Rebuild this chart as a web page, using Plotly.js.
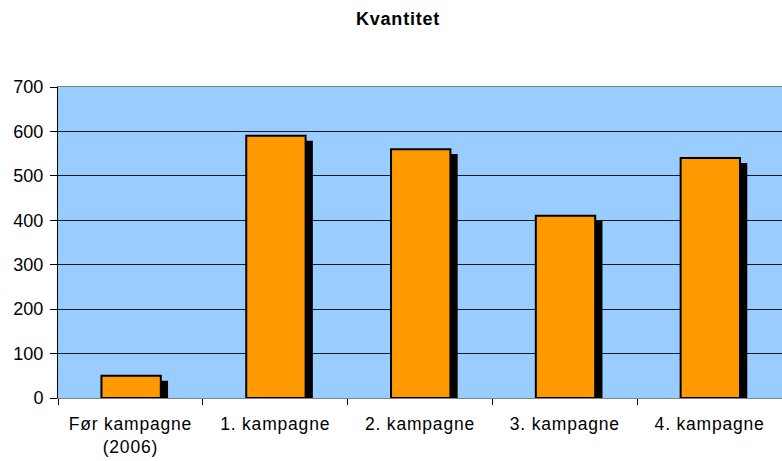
<!DOCTYPE html>
<html><head><meta charset="utf-8">
<script src="https://cdn.plot.ly/plotly-3.0.1.min.js"></script>
<style>html,body{margin:0;padding:0;background:#fff}#chart{width:782px;height:461px}
.xtick text{letter-spacing:0.8px}
.gtitle{letter-spacing:0.8px}</style>
</head><body><div id="chart"></div>
<script>
const categories = ["Før kampagne<br>(2006)", "1. kampagne", "2. kampagne", "3. kampagne", "4. kampagne"];
const quantities = [50, 590, 560, 410, 540];
const yTicks = [0, 100, 200, 300, 400, 500, 600, 700];

const shadowDrop = 11;   // visual depth of the drop shadow (data units)
const barWidth = 0.41;
const barOffset = -0.2;
const shadowShift = 0.05;

const shadow = {
  type: 'bar', x: categories, y: quantities.map(v => v - shadowDrop),
  width: barWidth, offset: barOffset + shadowShift,
  marker: {color: '#000000', line: {width: 0}},
  hoverinfo: 'skip', showlegend: false
};
const bars = {
  type: 'bar', x: categories, y: quantities,
  width: barWidth, offset: barOffset,
  marker: {color: '#FF9900', line: {color: '#000000', width: 2}},
  showlegend: false
};

const layout = {
  width: 782, height: 461,
  margin: {l: 58, r: 0, t: 87, b: 63, pad: 0},
  paper_bgcolor: '#ffffff', plot_bgcolor: '#99CCFF',
  barmode: 'overlay',
  font: {family: 'Liberation Sans, Arial, sans-serif', size: 18, color: '#000'},
  title: {text: '<b>Kvantitet</b>', x: 0.509, xref: 'container', y: 0.959, yref: 'container',
          xanchor: 'center', yanchor: 'middle',
          font: {family: 'Liberation Sans, Arial, sans-serif', size: 18, color: '#000'}},
  xaxis: {
    type: 'category', showgrid: false, zeroline: false,
    showline: true, linecolor: '#808080', linewidth: 1, mirror: true,
    ticks: 'outside', tickson: 'boundaries', ticklen: 6, tickcolor: '#000', tickwidth: 1,
    tickfont: {size: 17.5}, ticklabelstandoff: 10, range: [-0.5, 4.5], fixedrange: true
  },
  yaxis: {
    range: [0, 700], tickvals: yTicks, ticktext: yTicks.map(String),
    showgrid: true, gridcolor: '#1a1a1a', gridwidth: 1, zeroline: false,
    showline: true, linecolor: '#000', linewidth: 1,
    ticks: 'outside', ticklen: 7, tickcolor: '#000',
    tickfont: {size: 18}, ticklabelstandoff: 3, fixedrange: true
  }
};
Plotly.newPlot('chart', [shadow, bars], layout, {displayModeBar: false, staticPlot: true});
</script></body></html>
